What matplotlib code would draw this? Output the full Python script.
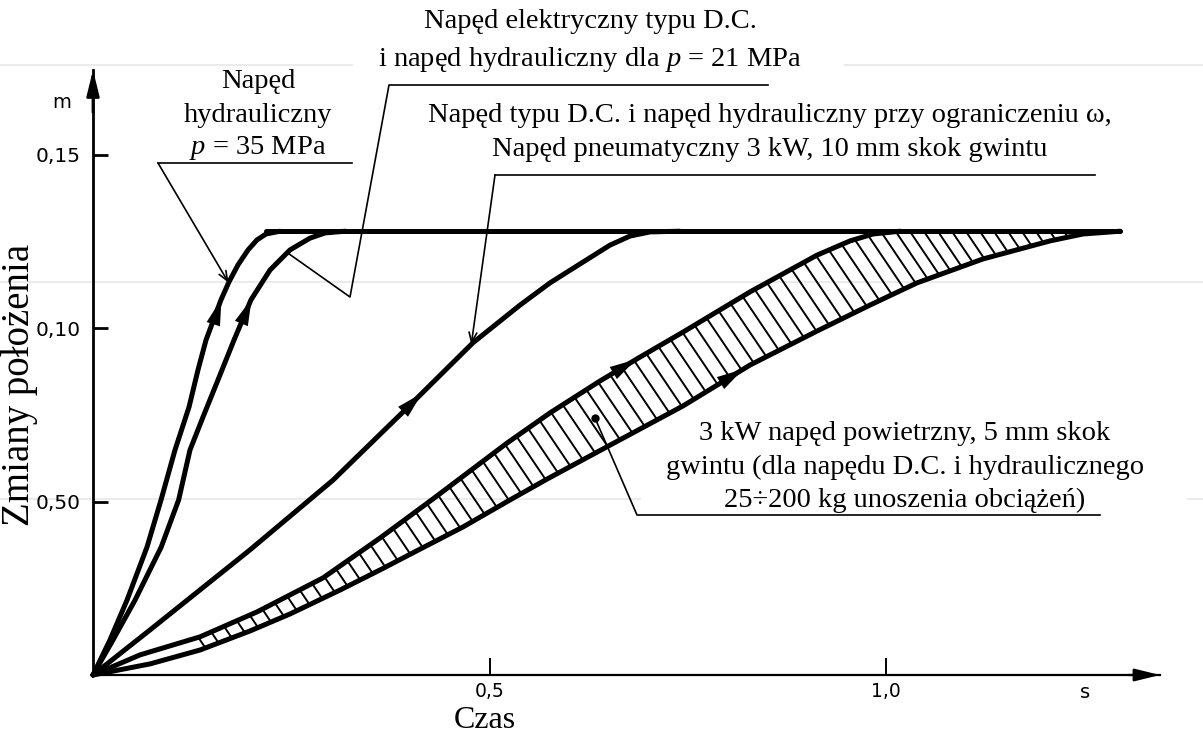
import numpy as np
import matplotlib
matplotlib.use("Agg")
import matplotlib.pyplot as plt
from matplotlib.patches import FancyArrowPatch, ArrowStyle
from matplotlib.collections import LineCollection

plt.rcParams["mathtext.fontset"] = "custom"
plt.rcParams["mathtext.rm"] = "Liberation Serif"
plt.rcParams["mathtext.it"] = "Liberation Serif:italic"

# ---- data: time (s) vs. position change (m) ----
t_hyd35 = [0.0, 0.0214, 0.0429, 0.0681, 0.0858, 0.1034, 0.1211, 0.1324, 0.1425, 0.1614,
           0.1715, 0.1829, 0.1955, 0.2068, 0.2182, 0.2358]
z_hyd35 = [0.0, 0.0101, 0.0216, 0.0369, 0.0505, 0.0649, 0.0773, 0.0880, 0.0966, 0.1082,
           0.1134, 0.1183, 0.1226, 0.1255, 0.1272, 0.128]

t_dc21 = [0.0, 0.0252, 0.0530, 0.0860, 0.1080, 0.1223, 0.1387, 0.1576, 0.1778, 0.1992,
          0.2232, 0.2484, 0.2736, 0.2926, 0.3178]
z_dc21 = [0.0, 0.0101, 0.0216, 0.0369, 0.0505, 0.0649, 0.0744, 0.0851, 0.0966, 0.1082,
          0.1168, 0.1226, 0.1260, 0.1275, 0.128]

t_limited = [0.0, 0.0719, 0.198, 0.3026, 0.396, 0.479, 0.5385, 0.5763, 0.6179, 0.652,
             0.6772, 0.7024, 0.740]
z_limited = [0.0, 0.0130, 0.0361, 0.0562, 0.0770, 0.0958, 0.1067, 0.1131, 0.1191, 0.1240,
             0.1266, 0.1278, 0.128]

t_band_upper = [0.0, 0.0593, 0.1349, 0.2068, 0.2900, 0.3619, 0.4288, 0.5221, 0.5763, 0.6393,
                0.6898, 0.7440, 0.8285, 0.9130, 0.9546, 0.9836, 1.0177]
z_band_upper = [0.0, 0.0058, 0.0110, 0.0182, 0.0280, 0.0395, 0.0508, 0.0669, 0.0756, 0.0848,
                0.0917, 0.0989, 0.1105, 0.1211, 0.1252, 0.1272, 0.128]

t_band_lower = [0.0, 0.0719, 0.1349, 0.1980, 0.2484, 0.3115, 0.3619, 0.4124, 0.4666, 0.5259,
                0.5725, 0.6520, 0.7440, 0.8285, 0.9130, 0.9798, 1.0391, 1.1223, 1.2068,
                1.2484, 1.2951]
z_band_lower = [0.0, 0.0032, 0.0072, 0.0127, 0.0176, 0.0245, 0.0303, 0.0363, 0.0427, 0.0505,
                0.0565, 0.0663, 0.0776, 0.0894, 0.0992, 0.1067, 0.1131, 0.1200, 0.1252,
                0.1272, 0.128]

plateau_level = 0.128
plateau_end = 1.2951

x_ticks = [0.5, 1.0]
x_tick_labels = ["0,5", "1,0"]
y_ticks = [0.05, 0.10, 0.15]
y_tick_labels = ["0,50", "0,10", "0,15"]

# ---- figure layout ----
W, H = 1203, 738
fig = plt.figure(figsize=(W / 100, H / 100), dpi=100)
fig.patch.set_facecolor("white")

def fx(px):
    return px / W

def fy(py):
    return 1 - py / H

X0, Y0, X1, Y1 = 93, 675, 1160, 70
XMAX, YMAX = 1.3455, 0.1745
ax = fig.add_axes([fx(X0), fy(Y0), (X1 - X0) / W, (Y0 - Y1) / H])
ax.set_xlim(0, XMAX)
ax.set_ylim(0, YMAX)
ax.set_facecolor("none")

SX = (X1 - X0) / XMAX
SY = (Y0 - Y1) / YMAX

def p2d(px, py):
    return ((px - X0) / SX, (Y0 - py) / SY)

# faint page rules behind the drawing
for y, segs in [(65, [(0, 352), (845, 1203)]), (282, [(0, 1203)]),
                (499, [(0, 640), (1188, 1203)])]:
    for a, b in segs:
        fig.add_artist(plt.Line2D([fx(a), fx(b)], [fy(y), fy(y)], color="#ebebeb",
                                  lw=1.5, zorder=0))

# axes
for s in ["top", "right"]:
    ax.spines[s].set_visible(False)
ax.spines["left"].set_linewidth(2.0)
ax.spines["bottom"].set_linewidth(1.6)
ax.set_xticks(x_ticks)
ax.set_xticklabels(x_tick_labels)
ax.set_yticks(y_ticks)
ax.set_yticklabels(y_tick_labels)
tick_family = ["DejaVu Sans"]
ax.tick_params(axis="x", direction="in", length=12, width=1.4, pad=5)
ax.tick_params(axis="y", direction="in", length=11, width=2.0, pad=9)
for lab in ax.get_yticklabels():
    lab.set_fontfamily(tick_family)
    lab.set_fontsize(14.5)
for lab in ax.get_xticklabels():
    lab.set_fontfamily(tick_family)
    lab.set_fontsize(13.5)

# axis arrowheads
head = ArrowStyle("-|>", head_length=1.3, head_width=0.32)
ax.add_patch(FancyArrowPatch((0, YMAX * 0.93), (0, YMAX), arrowstyle=head, mutation_scale=12,
                             color="black", lw=2.0, clip_on=False, shrinkA=0, shrinkB=0))
ax.add_patch(FancyArrowPatch((XMAX * 0.97, 0), (XMAX, 0), arrowstyle=head, mutation_scale=12,
                             color="black", lw=1.6, clip_on=False, shrinkA=0, shrinkB=0))

fig.text(fx(62), fy(103), "m", family=tick_family, size=14, ha="center", va="center")
fig.text(fx(1085), fy(692), "s", family=tick_family, size=14, ha="center", va="center")

# ---- curves ----
curve_kw = dict(color="black", lw=3.6, solid_capstyle="round", solid_joinstyle="round",
                clip_on=False, zorder=4)
ax.plot([t_hyd35[-2], plateau_end], [plateau_level, plateau_level], **curve_kw)
ax.plot(t_hyd35, z_hyd35, **curve_kw)
ax.plot(t_dc21, z_dc21, **curve_kw)
ax.plot(t_limited, z_limited, **curve_kw)
ax.plot(t_band_upper, z_band_upper, **curve_kw)
ax.plot(t_band_lower, z_band_lower, **curve_kw)

# hatching between the band boundaries
def hatch_segments(tu, zu, tl, zl, step_px, angle_deg, t_from, t_to):
    ux, uy = np.asarray(tu) * SX, np.asarray(zu) * SY
    lx, ly = np.asarray(tl) * SX, np.asarray(zl) * SY
    arc = np.concatenate([[0], np.cumsum(np.hypot(np.diff(ux), np.diff(uy)))])
    a = np.radians(angle_deg)
    r = np.linspace(0, 200, 4001)
    segs = []
    for sv in np.arange(0, arc[-1], step_px):
        x0, y0 = np.interp(sv, arc, ux), np.interp(sv, arc, uy)
        if x0 < t_from * SX or x0 > t_to * SX:
            continue
        px = x0 + r * np.cos(a)
        py = y0 - r * np.sin(a)
        below = py <= np.interp(px, lx, ly)
        if not below.any():
            continue
        i = np.argmax(below)
        segs.append([(x0 / SX, y0 / SY), (px[i] / SX, py[i] / SY)])
    return segs

hatch = hatch_segments(t_band_upper + [plateau_end], z_band_upper + [plateau_level],
                       t_band_lower, z_band_lower, 14.0, 56, 0.12, 1.23)
ax.add_collection(LineCollection(hatch, colors="black", linewidths=1.4, zorder=3))

# direction arrows on the curves
def curve_arrow(t, z, t_tail, t_tip):
    tail = (t_tail, np.interp(t_tail, t, z))
    tip = (t_tip, np.interp(t_tip, t, z))
    ax.add_patch(FancyArrowPatch(tail, tip, arrowstyle=ArrowStyle("-|>", head_length=1.6,
                                 head_width=0.42), mutation_scale=12, color="black", lw=0,
                                 shrinkA=0, shrinkB=0, zorder=5))

curve_arrow(t_hyd35, z_hyd35, 0.130, 0.162)
curve_arrow(t_dc21, z_dc21, 0.160, 0.200)
curve_arrow(t_limited, z_limited, 0.375, 0.415)
curve_arrow(t_band_upper, z_band_upper, 0.645, 0.685)
curve_arrow(t_band_lower, z_band_lower, 0.775, 0.82)

# ---- annotations ----
serif = ["Liberation Serif", "DejaVu Serif"]
txt_kw = dict(family=serif, size=20.5, ha="center", va="center")
lead_kw = dict(color="black", lw=1.2, clip_on=False, zorder=2)

def text_lines(cx, ys, lines):
    for y, s in zip(ys, lines):
        fig.text(fx(cx), fy(y), s, **txt_kw)

text_lines(258, [82, 115, 148], ["Napęd", "hydrauliczny", "$p$ = 35 MPa"])
text_lines(590, [22, 59], ["Napęd elektryczny typu D.C.",
                           "i napęd hydrauliczny dla $p$ = 21 MPa"])
text_lines(770, [115, 150], ["Napęd typu D.C. i napęd hydrauliczny przy ograniczeniu ω,",
                             "Napęd pneumatyczny 3 kW, 10 mm skok gwintu"])
text_lines(905, [433, 467, 500], ["3 kW napęd powietrzny, 5 mm skok",
                                  "gwintu (dla napędu D.C. i hydraulicznego",
                                  "25÷200 kg unoszenia obciążeń)"])

leader_head = dict(arrowstyle="->,head_length=0.5,head_width=0.2", lw=1.2, color="black",
                   shrinkA=0, shrinkB=0, mutation_scale=14)

# leader: hydraulic 35 MPa
a, b = p2d(352, 163), p2d(158, 163)
ax.plot([a[0], b[0]], [a[1], b[1]], **lead_kw)
tip = (0.171, np.interp(0.171, t_hyd35, z_hyd35))
ax.annotate("", xy=tip, xytext=b, arrowprops=leader_head, annotation_clip=False)

# leader: DC drive / 21 MPa
pts = [p2d(768, 85), p2d(389, 85), p2d(350, 297)]
tip2 = (0.245, np.interp(0.245, t_dc21, z_dc21))
ax.plot([p[0] for p in pts] + [tip2[0]], [p[1] for p in pts] + [tip2[1]], **lead_kw)

# leader: limited-speed drive
c1, c2 = p2d(1095, 175), p2d(495, 175)
ax.plot([c1[0], c2[0]], [c1[1], c2[1]], **lead_kw)
tip3 = (0.477, np.interp(0.477, t_limited, z_limited))
ax.annotate("", xy=tip3, xytext=c2, arrowprops=leader_head, annotation_clip=False)

# leader: pneumatic band
d0 = p2d(595, 418)
d1, d2 = p2d(637, 515), p2d(1100, 515)
ax.plot([d0[0], d1[0], d2[0]], [d0[1], d1[1], d2[1]], **lead_kw)
ax.plot([d0[0]], [d0[1]], "o", color="black", ms=5, zorder=6)

# axis titles
fig.text(fx(485), fy(721), "Czas", family=serif, size=23, ha="center", va="center")
fig.text(fx(20), fy(385), "Zmiany położenia", family=serif, size=28, ha="center", va="center",
         rotation=90)

fig.savefig("out.png", dpi=100, facecolor="white")
